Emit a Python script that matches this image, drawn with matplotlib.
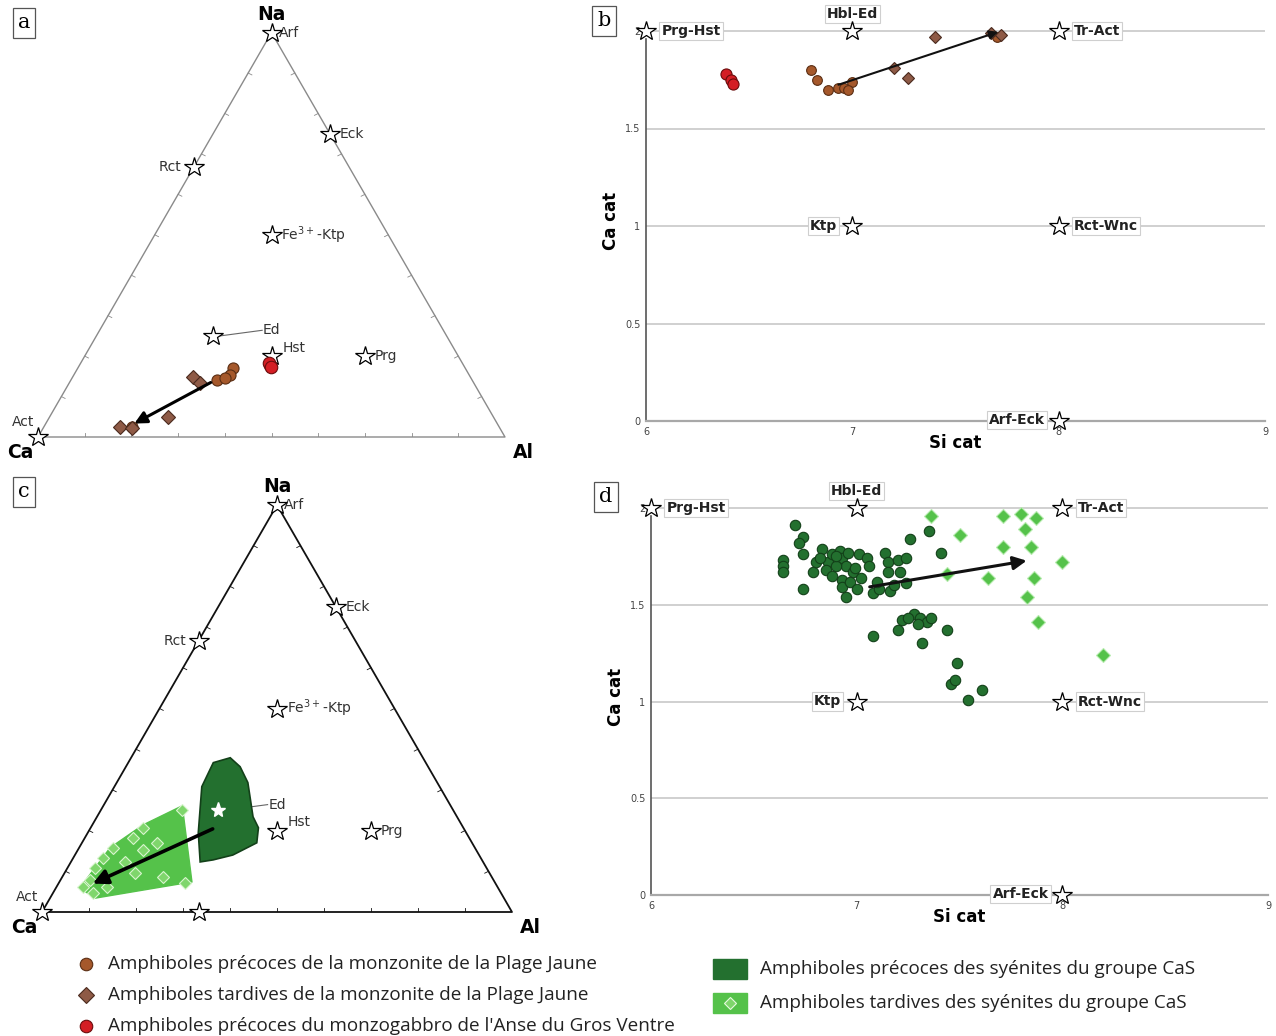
import numpy as np
import matplotlib
matplotlib.use("Agg")
import matplotlib.pyplot as plt
from matplotlib.patches import Polygon, Rectangle
from matplotlib.lines import Line2D

# ---------------- data ----------------
# ternary reference end-members (Na, Al) fractions; Ca = 1 - Na - Al
tern_ref_names = ["Arf", "Eck", "Rct", "Fe$^{3+}$-Ktp", "Ed", "Hst", "Prg", "Act"]
tern_ref_na = [1.0, 0.75, 0.667, 0.5, 0.25, 0.2, 0.2, 0.0]
tern_ref_al = [0.0, 0.25, 0.0, 0.25, 0.25, 0.4, 0.6, 0.0]

# panel a (Na, Al)
a_early_na = [0.141, 0.170, 0.153, 0.146, 0.025]
a_early_al = [0.313, 0.333, 0.335, 0.327, 0.189]
a_late_na = [0.148, 0.133, 0.049, 0.025, 0.022]
a_late_al = [0.258, 0.280, 0.254, 0.163, 0.190]
a_gabbro_na = [0.178, 0.183, 0.173]
a_gabbro_al = [0.408, 0.404, 0.412]
a_arrow_na = [0.138, 0.030]
a_arrow_al = [0.306, 0.186]

# panel c polygons and points (Na, Al)
c_early_poly_na = [0.367, 0.379, 0.357, 0.318, 0.234, 0.207, 0.170, 0.140, 0.128, 0.123, 0.195, 0.308]
c_early_poly_al = [0.181, 0.211, 0.243, 0.279, 0.332, 0.357, 0.372, 0.336, 0.300, 0.275, 0.235, 0.186]
c_late_poly_na = [0.261, 0.074, 0.034, 0.059, 0.158, 0.214]
c_late_poly_al = [0.168, 0.282, 0.096, 0.051, 0.066, 0.108]
c_late_na = [0.251, 0.207, 0.182, 0.158, 0.133, 0.108, 0.079, 0.062, 0.047, 0.170, 0.153, 0.096, 0.086, 0.071, 0.062, 0.123]
c_late_al = [0.172, 0.111, 0.103, 0.072, 0.063, 0.059, 0.063, 0.056, 0.085, 0.160, 0.138, 0.150, 0.214, 0.269, 0.107, 0.115]
c_arrow_na = [0.207, 0.067]
c_arrow_al = [0.265, 0.069]

# binary reference end-members (Si, Ca)
bin_ref_names = ["Prg-Hst", "Hbl-Ed", "Tr-Act", "Ktp", "Rct-Wnc", "Arf-Eck"]
bin_ref_si = [6, 7, 8, 7, 8, 8]
bin_ref_ca = [2, 2, 2, 1, 1, 0]

# panel b
b_early_si = [6.80, 6.83, 6.88, 6.93, 6.96, 7.00, 6.98, 7.70]
b_early_ca = [1.80, 1.75, 1.70, 1.71, 1.71, 1.74, 1.70, 1.97]
b_late_si = [7.40, 7.20, 7.27, 7.67, 7.72]
b_late_ca = [1.97, 1.81, 1.76, 1.99, 1.98]
b_gabbro_si = [6.39, 6.41, 6.42]
b_gabbro_ca = [1.78, 1.75, 1.73]
b_arrow_si = [6.92, 7.72]
b_arrow_ca = [1.72, 2.00]

# panel d
d_early_si = [6.70, 6.74, 6.72, 6.74, 6.64, 6.64, 6.64, 6.79, 6.83, 6.86, 6.88, 6.92, 6.93, 6.95,
              6.98, 6.93, 6.93, 6.95, 7.01, 7.05, 7.06, 7.02, 7.14, 7.15, 7.20, 7.24, 7.15, 7.21,
              7.08, 7.11, 7.16, 7.24, 7.26, 7.35, 7.41, 6.74, 6.80, 6.85, 6.90, 6.88, 6.97, 7.00,
              6.90, 6.96, 7.10, 7.18, 6.82, 6.99,
              7.08, 7.20, 7.22, 7.28, 7.31, 7.34, 7.36, 7.32, 7.44, 7.49, 7.46, 7.48, 7.61, 7.54,
              7.25, 7.30]
d_early_ca = [1.91, 1.85, 1.82, 1.76, 1.73, 1.70, 1.67, 1.67, 1.79, 1.72, 1.76, 1.78, 1.74, 1.70,
              1.67, 1.63, 1.59, 1.54, 1.76, 1.74, 1.70, 1.64, 1.77, 1.72, 1.73, 1.74, 1.67, 1.67,
              1.56, 1.58, 1.57, 1.61, 1.84, 1.88, 1.77, 1.58, 1.72, 1.68, 1.70, 1.65, 1.62, 1.58,
              1.75, 1.77, 1.62, 1.60, 1.74, 1.69,
              1.34, 1.37, 1.42, 1.45, 1.43, 1.41, 1.43, 1.30, 1.37, 1.20, 1.09, 1.11, 1.06, 1.01,
              1.43, 1.40]
d_late_si = [7.36, 7.50, 7.44, 7.64, 7.71, 7.80, 7.87, 7.82, 7.71, 7.85, 7.86, 7.83, 7.88, 8.00, 8.20]
d_late_ca = [1.96, 1.86, 1.66, 1.64, 1.96, 1.97, 1.95, 1.89, 1.80, 1.80, 1.64, 1.54, 1.41, 1.72, 1.24]
d_arrow_si = [7.05, 7.84]
d_arrow_ca = [1.59, 1.73]

legend_labels = [
    "Amphiboles précoces de la monzonite de la Plage Jaune",
    "Amphiboles tardives de la monzonite de la Plage Jaune",
    "Amphiboles précoces du monzogabbro de l'Anse du Gros Ventre",
    "Amphiboles précoces des syénites du groupe CaS",
    "Amphiboles tardives des syénites du groupe CaS",
]

# ---------------- styles ----------------
BROWN = "#a5582b"
BROWN_E = "#5a2e14"
DIAM = "#8e5a46"
DIAM_E = "#4a2a1e"
RED = "#d41e24"
RED_E = "#6a0c0c"
DKGREEN = "#23702f"
DKGREEN_E = "#134019"
LTGREEN = "#55c24a"
LTDIAM = "#7fd66c"
LTDIAM_E = "#d9f5cf"

W, H = 1276, 1036
fig = plt.figure(figsize=(12.76, 10.36), dpi=100)
S3 = np.sqrt(3) / 2


def txy(na, al):
    na = np.asarray(na, float)
    al = np.asarray(al, float)
    return al + na / 2, na * S3


def star(ax, x, y, ms=15, z=6):
    ax.plot(x, y, marker="*", ms=ms, mfc="white", mec="black", mew=0.9,
            ls="none", zorder=z, clip_on=False)


def ternary(ax, edge_col, edge_lw, fs):
    ax.set_xlim(0, 1)
    ax.set_ylim(0, S3)
    ax.set_aspect("equal")
    ax.axis("off")
    ax.plot([0, 1, 0.5, 0], [0, 0, S3, 0], color=edge_col, lw=edge_lw, zorder=1, clip_on=False)
    # small edge ticks
    for t in np.arange(0.1, 1.0, 0.1):
        ax.plot([t, t], [0, 0.008], color=edge_col, lw=0.6, zorder=1)
        x0, y0 = t / 2, t * S3
        ax.plot([x0, x0 + 0.008], [y0, y0 - 0.004], color=edge_col, lw=0.6, zorder=1)
        x1, y1 = 1 - t / 2, t * S3
        ax.plot([x1, x1 - 0.008], [y1, y1 - 0.004], color=edge_col, lw=0.6, zorder=1)
    ax.annotate("Na", (0.5, S3), xytext=(0, 13), textcoords="offset points",
                ha="center", va="center", fontsize=13.5, fontweight="bold", annotation_clip=False)
    ax.annotate("Ca", (0, 0), xytext=(-13, -11), textcoords="offset points",
                ha="center", va="center", fontsize=13.5, fontweight="bold", annotation_clip=False)
    ax.annotate("Al", (1, 0), xytext=(13, -11), textcoords="offset points",
                ha="center", va="center", fontsize=13.5, fontweight="bold", annotation_clip=False)


def ref_labels(ax, fs):
    offsets = {"Arf": (5, 0, "left"), "Eck": (7, 0, "left"), "Rct": (-9, 0, "right"),
               "Fe$^{3+}$-Ktp": (7, 0, "left"), "Hst": (8, 6, "left"),
               "Prg": (7, 0, "left"), "Act": (-3, 11, "right")}
    for name, na, al in zip(tern_ref_names, tern_ref_na, tern_ref_al):
        x, y = txy(na, al)
        star(ax, x, y, ms=15, z=3 if name == "Ed" else 6)
        if name == "Ed":
            ax.plot([x + 0.015, x + 0.105], [y + 0.0, y + 0.012], color="#666", lw=0.8, zorder=2)
            ax.text(x + 0.107, y + 0.012, "Ed", fontsize=fs, ha="left", va="center", color="#333")
        else:
            dx, dy, ha = offsets[name]
            ax.annotate(name, (x, y), xytext=(dx, dy), textcoords="offset points",
                        ha=ha, va="center", fontsize=fs, color="#333", annotation_clip=False)


# ---------------- panel a ----------------
ax_a = fig.add_axes([38 / W, (H - 437) / H, 467 / W, 404.4 / H])
ternary(ax_a, "#8a8a8a", 1.0, 10)
ref_labels(ax_a, 10)
x, y = txy(a_early_na, a_early_al)
ax_a.plot(x, y, "o", ms=8, mfc=BROWN, mec=BROWN_E, mew=0.8, ls="none", zorder=7)
x, y = txy(a_late_na, a_late_al)
ax_a.plot(x, y, "D", ms=7, mfc=DIAM, mec=DIAM_E, mew=0.8, ls="none", zorder=7)
x, y = txy(a_gabbro_na, a_gabbro_al)
ax_a.plot(x, y, "o", ms=9, mfc=RED, mec=RED_E, mew=0.8, ls="none", zorder=8)
x, y = txy(a_arrow_na, a_arrow_al)
ax_a.annotate("", xy=(x[1], y[1]), xytext=(x[0], y[0]),
              arrowprops=dict(arrowstyle="-|>", color="black", lw=2.2, mutation_scale=18), zorder=9)

# ---------------- panel c ----------------
ax_c = fig.add_axes([42 / W, (H - 912) / H, 470 / W, 407 / H])
ternary(ax_c, "#111111", 1.3, 10)
ref_labels(ax_c, 10)
x, y = txy([0.0], [0.333])
star(ax_c, x, y, ms=15)
x, y = txy(c_late_poly_na, c_late_poly_al)
ax_c.add_patch(Polygon(np.c_[x, y], closed=True, fc=LTGREEN, ec=LTGREEN, lw=1, zorder=4))
x, y = txy(c_early_poly_na, c_early_poly_al)
ax_c.add_patch(Polygon(np.c_[x, y], closed=True, fc=DKGREEN, ec=DKGREEN_E, lw=1.2, zorder=4))
x, y = txy(c_late_na, c_late_al)
ax_c.plot(x, y, "D", ms=6, mfc=LTDIAM, mec=LTDIAM_E, mew=0.8, ls="none", zorder=5)
x, y = txy([0.25], [0.25])
ax_c.plot(x, y, marker="*", ms=11, mfc="white", mec="white", ls="none", zorder=6)
x, y = txy(c_arrow_na, c_arrow_al)
ax_c.annotate("", xy=(x[1], y[1]), xytext=(x[0], y[0]),
              arrowprops=dict(arrowstyle="-|>", color="black", lw=2.6, mutation_scale=22), zorder=9)


# ---------------- binary panels ----------------
def binary(ax):
    ax.set_xlim(6, 9)
    ax.set_ylim(0, 2.05)
    for v in [0.5, 1, 1.5, 2]:
        ax.axhline(v, color="#c8c8c8", lw=1.2, zorder=1)
    for s in ["top", "right"]:
        ax.spines[s].set_visible(False)
    ax.spines["bottom"].set_color("#a8a8a8")
    ax.spines["bottom"].set_linewidth(1.6)
    ax.spines["left"].set_color("#555555")
    ax.spines["left"].set_linewidth(1.2)
    ax.spines["left"].set_bounds(0, 1.96)
    ax.set_xticks([6, 7, 8, 9])
    ax.set_xticklabels(["6", "7", "8", "9"])
    ax.set_yticks([0, 0.5, 1, 1.5, 2])
    ax.set_yticklabels(["0", "0.5", "1", "1.5", "2"])
    ax.tick_params(length=0, labelsize=7, labelcolor="#444", pad=4)
    ax.set_xlabel("Si cat", fontsize=12, fontweight="bold", labelpad=-2)
    ax.set_ylabel("Ca cat", fontsize=12, fontweight="bold", labelpad=4)
    offs = {"Prg-Hst": (11, 0, "left", "center"), "Hbl-Ed": (0, 12, "center", "center"),
            "Tr-Act": (11, 0, "left", "center"), "Ktp": (-11, 0, "right", "center"),
            "Rct-Wnc": (11, 0, "left", "center"), "Arf-Eck": (-10, 1, "right", "center")}
    for name, si, ca in zip(bin_ref_names, bin_ref_si, bin_ref_ca):
        star(ax, si, ca, ms=15, z=6)
        dx, dy, ha, va = offs[name]
        ax.annotate(name, (si, ca), xytext=(dx, dy), textcoords="offset points",
                    ha=ha, va=va, fontsize=10, fontweight="bold", color="#222",
                    bbox=dict(boxstyle="square,pad=0.15", fc="white", ec="#cfcfcf", lw=0.8),
                    annotation_clip=False, zorder=5)


ax_b = fig.add_axes([646 / W, (H - 421) / H, 619 / W, 2.05 * 195 / H])
binary(ax_b)
ax_b.plot(b_gabbro_si, b_gabbro_ca, "o", ms=8, mfc=RED, mec=RED_E, mew=0.8, ls="none", zorder=7)
ax_b.plot(b_early_si, b_early_ca, "o", ms=7, mfc=BROWN, mec=BROWN_E, mew=0.8, ls="none", zorder=7)
ax_b.plot(b_late_si, b_late_ca, "D", ms=6, mfc=DIAM, mec=DIAM_E, mew=0.8, ls="none", zorder=7)
ax_b.annotate("", xy=(b_arrow_si[1], b_arrow_ca[1]), xytext=(b_arrow_si[0], b_arrow_ca[0]),
              arrowprops=dict(arrowstyle="-|>", color="#111", lw=1.5, mutation_scale=13), zorder=9)

ax_d = fig.add_axes([651 / W, (H - 895) / H, 617 / W, 2.05 * 193.5 / H])
binary(ax_d)
ax_d.plot(d_early_si, d_early_ca, "o", ms=7.5, mfc=DKGREEN, mec=DKGREEN_E, mew=0.8, ls="none", zorder=7)
ax_d.plot(d_late_si, d_late_ca, "D", ms=7, mfc=LTGREEN, mec="#b8ecb0", mew=0.8, ls="none", zorder=7)
ax_d.annotate("", xy=(d_arrow_si[1], d_arrow_ca[1]), xytext=(d_arrow_si[0], d_arrow_ca[0]),
              arrowprops=dict(arrowstyle="-|>", color="#111", lw=2.2, mutation_scale=20), zorder=9)

# ---------------- panel letters ----------------
for lab, px, py in [("a", 24, 23), ("b", 604, 21), ("c", 24, 492), ("d", 606, 497)]:
    fig.text(px / W, 1 - py / H, lab, fontsize=15, family="DejaVu Serif", ha="center", va="center",
             bbox=dict(boxstyle="square,pad=0.25", fc="white", ec="#555", lw=0.9))

# ---------------- legend ----------------
leg_font = dict(fontsize=13.6, family="Open Sans", va="center", ha="left", color="#222")
lx, ly = 86, [964, 995, 1026]
styles = [("o", BROWN, BROWN_E, 9), ("D", DIAM, DIAM_E, 8), ("o", RED, RED_E, 9)]
for (m, fc, ec, ms), yy, lab in zip(styles, ly, legend_labels[:3]):
    fig.add_artist(Line2D([lx / W], [1 - yy / H], marker=m, ms=ms, mfc=fc, mec=ec, mew=0.8,
                          ls="none", transform=fig.transFigure))
    fig.text(108 / W, 1 - yy / H, lab, **leg_font)

for yy, fc, lab, dia in [(969, DKGREEN, legend_labels[3], False), (1003, LTGREEN, legend_labels[4], True)]:
    fig.add_artist(Rectangle((713 / W, 1 - (yy + 10) / H), 34 / W, 20 / H, fc=fc, ec=fc,
                             transform=fig.transFigure))
    if dia:
        fig.add_artist(Line2D([730 / W], [1 - yy / H], marker="D", ms=6, mfc=LTDIAM, mec="#e8fbe0",
                              mew=0.8, ls="none", transform=fig.transFigure))
    fig.text(760 / W, 1 - yy / H, lab, **leg_font)

fig.savefig("out.png", dpi=100, facecolor="white")
